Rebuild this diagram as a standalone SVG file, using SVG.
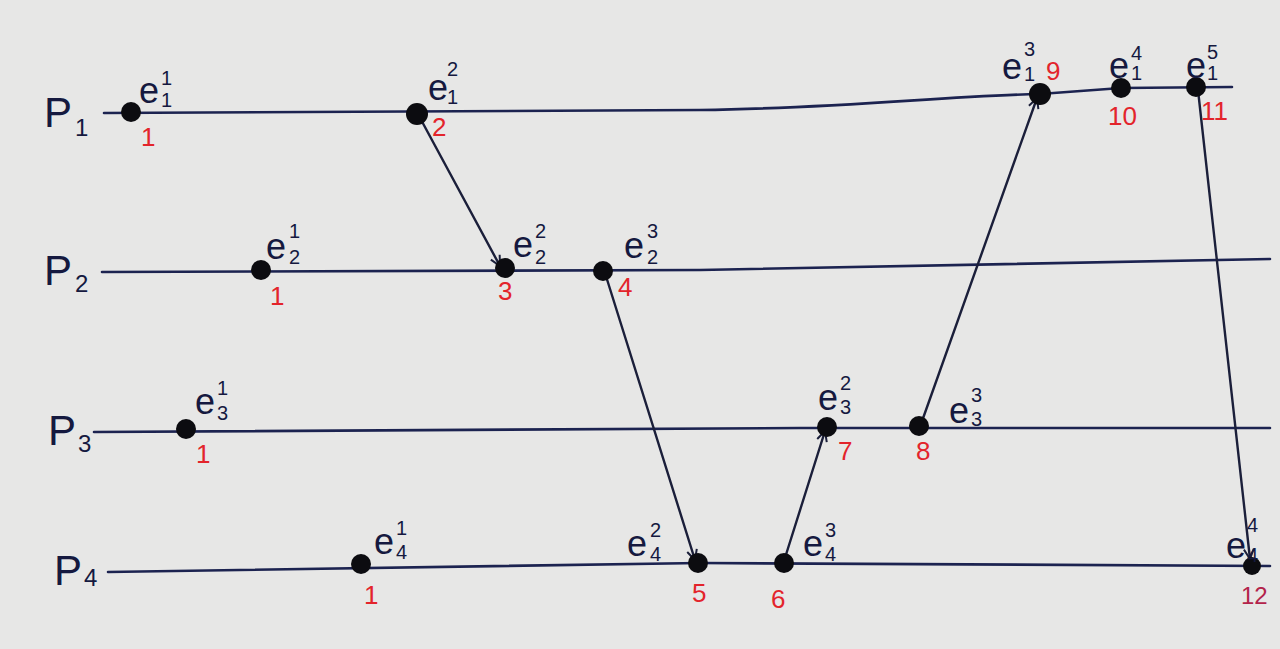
<svg xmlns="http://www.w3.org/2000/svg" width="1280" height="649" viewBox="0 0 1280 649">
<defs>
<style>
.bg{fill:#e7e7e6}
.tl{fill:none;stroke:#1c2350;stroke-width:2.6;stroke-linecap:round}
.msg{fill:none;stroke:#1b1f3a;stroke-width:2.4;stroke-linecap:round}
.dot{fill:#0c0c10}
.p{font-family:"Liberation Sans",sans-serif;font-size:42px;fill:#15193f}
.ps{font-family:"Liberation Sans",sans-serif;font-size:24px;fill:#15193f}
.e{font-family:"Liberation Sans",sans-serif;font-size:36px;fill:#15193f}
.es{font-family:"Liberation Sans",sans-serif;font-size:20px;fill:#15193f}
.n{font-family:"Liberation Sans",sans-serif;font-size:26px;fill:#e3242b}
.n2{font-family:"Liberation Sans",sans-serif;font-size:24px;fill:#b3234a}
</style>
<marker id="ah" viewBox="0 0 12 12" refX="11" refY="6" markerWidth="12" markerHeight="12" markerUnits="userSpaceOnUse" orient="auto">
<path d="M1,1 L11,6 L1,11" fill="none" stroke="#1b1f3a" stroke-width="2"/>
</marker>
</defs>
<rect class="bg" x="0" y="0" width="1280" height="649"/>

<g id="timelines">
<path class="tl" d="M104,113 L700,110 C850,108 940,96 1040,94 L1121,88 L1232,87"/>
<path class="tl" d="M102,272 L700,270 L1270,259"/>
<path class="tl" d="M94,432 L800,428 L1270,428"/>
<path class="tl" d="M108,572 L700,563 L1270,566"/>
</g>

<g id="process-labels">
<g id="P1"><text class="p" x="44" y="127">P</text><text class="ps" x="75" y="136">1</text></g>
<g id="P2"><text class="p" x="44" y="285">P</text><text class="ps" x="75" y="292">2</text></g>
<g id="P3"><text class="p" x="48" y="445">P</text><text class="ps" x="78" y="452">3</text></g>
<g id="P4"><text class="p" x="54" y="585">P</text><text class="ps" x="84" y="586">4</text></g>
</g>

<g id="connectors">
<line class="msg" x1="419" y1="116" x2="500" y2="266" marker-end="url(#ah)"/>
<line class="msg" x1="605" y1="273" x2="695" y2="560" marker-end="url(#ah)"/>
<line class="msg" x1="784" y1="561" x2="825" y2="431" marker-end="url(#ah)"/>
<line class="msg" x1="921" y1="424" x2="1037" y2="98" marker-end="url(#ah)"/>
<line class="msg" x1="1198" y1="90" x2="1250" y2="559" marker-end="url(#ah)"/>
</g>

<g id="e11"><circle class="dot" cx="131" cy="112" r="10"/><text class="e" x="139" y="103">e</text><text class="es" x="161" y="85">1</text><text class="es" x="161" y="107">1</text><text class="n" x="141" y="146">1</text></g>
<g id="e12"><circle class="dot" cx="417" cy="114" r="11"/><text class="e" x="428" y="100">e</text><text class="es" x="447" y="76">2</text><text class="es" x="447" y="104">1</text><text class="n" x="432" y="136">2</text></g>
<g id="e13"><circle class="dot" cx="1040" cy="94" r="11"/><text class="e" x="1002" y="79">e</text><text class="es" x="1024" y="56">3</text><text class="es" x="1024" y="81">1</text><text class="n" x="1046" y="80">9</text></g>
<g id="e14"><circle class="dot" cx="1121" cy="88" r="10"/><text class="e" x="1109" y="78">e</text><text class="es" x="1131" y="60">4</text><text class="es" x="1131" y="80">1</text><text class="n" x="1108" y="125">10</text></g>
<g id="e15"><circle class="dot" cx="1196" cy="87" r="10"/><text class="e" x="1186" y="78">e</text><text class="es" x="1207" y="59">5</text><text class="es" x="1207" y="80">1</text><text class="n" x="1201" y="120">11</text></g>

<g id="e21"><circle class="dot" cx="261" cy="270" r="10"/><text class="e" x="266" y="259">e</text><text class="es" x="289" y="238">1</text><text class="es" x="289" y="264">2</text><text class="n" x="270" y="305">1</text></g>
<g id="e22"><circle class="dot" cx="505" cy="268" r="10"/><text class="e" x="513" y="257">e</text><text class="es" x="535" y="238">2</text><text class="es" x="535" y="264">2</text><text class="n" x="498" y="300">3</text></g>
<g id="e23"><circle class="dot" cx="603" cy="271" r="10"/><text class="e" x="624" y="258">e</text><text class="es" x="647" y="238">3</text><text class="es" x="647" y="264">2</text><text class="n" x="618" y="296">4</text></g>

<g id="e31"><circle class="dot" cx="186" cy="429" r="10"/><text class="e" x="195" y="414">e</text><text class="es" x="217" y="395">1</text><text class="es" x="217" y="420">3</text><text class="n" x="196" y="463">1</text></g>
<g id="e32"><circle class="dot" cx="827" cy="427" r="10"/><text class="e" x="818" y="410">e</text><text class="es" x="840" y="390">2</text><text class="es" x="840" y="414">3</text><text class="n" x="838" y="460">7</text></g>
<g id="e33"><circle class="dot" cx="919" cy="426" r="10"/><text class="e" x="949" y="423">e</text><text class="es" x="971" y="402">3</text><text class="es" x="971" y="426">3</text><text class="n" x="916" y="460">8</text></g>

<g id="e41"><circle class="dot" cx="361" cy="564" r="10"/><text class="e" x="374" y="554">e</text><text class="es" x="396" y="535">1</text><text class="es" x="396" y="559">4</text><text class="n" x="364" y="604">1</text></g>
<g id="e42"><circle class="dot" cx="698" cy="563" r="10"/><text class="e" x="627" y="556">e</text><text class="es" x="650" y="537">2</text><text class="es" x="650" y="561">4</text><text class="n" x="692" y="602">5</text></g>
<g id="e43"><circle class="dot" cx="784" cy="563" r="10"/><text class="e" x="803" y="556">e</text><text class="es" x="825" y="537">3</text><text class="es" x="825" y="561">4</text><text class="n" x="771" y="608">6</text></g>
<g id="e44"><circle class="dot" cx="1252" cy="566" r="9"/><text class="e" x="1226" y="558">e</text><text class="es" x="1247" y="532">4</text><text class="es" x="1247" y="562">4</text><text class="n2" x="1241" y="604">12</text></g>
</svg>
